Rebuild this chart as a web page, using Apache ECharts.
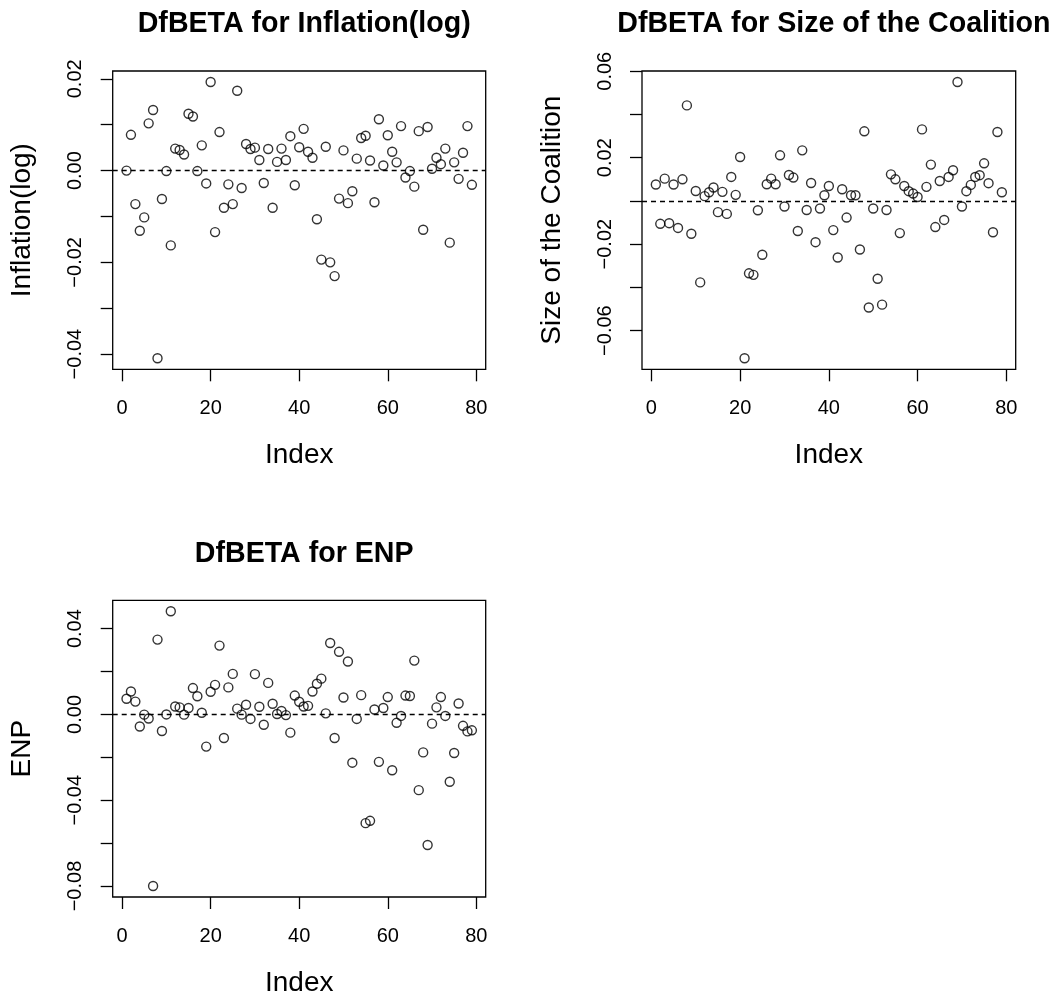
<!DOCTYPE html>
<html>
<head>
<meta charset="UTF-8">
<title>DfBETA plots</title>
<script type="text/javascript" src="https://cdn.jsdelivr.net/npm/echarts@6/dist/echarts.min.js"></script>
<style>
  html, body { margin: 0; padding: 0; background: #fff; }
</style>
</head>
<body>
<div id="mychart" style="width:1056px;height:998px;"></div>

<script type="text/javascript">

// DfBETA values, one per observation (Index 1..79)
var dfbInflation = [
   0.0000,  0.0078, -0.0073, -0.0131, -0.0102,  0.0103,  0.0132, -0.0409, -0.0062, -0.0001,
  -0.0163,  0.0048,  0.0045,  0.0035,  0.0124,  0.0118, -0.0001,  0.0055, -0.0028,  0.0193,
  -0.0134,  0.0084, -0.0081, -0.0030, -0.0073,  0.0174, -0.0038,  0.0058,  0.0047,  0.0050,
   0.0023, -0.0027,  0.0047, -0.0081,  0.0019,  0.0048,  0.0023,  0.0075, -0.0032,  0.0051,
   0.0091,  0.0041,  0.0028, -0.0106, -0.0194,  0.0052, -0.0200, -0.0230, -0.0061,  0.0044,
  -0.0071, -0.0045,  0.0026,  0.0071,  0.0076,  0.0022, -0.0069,  0.0112,  0.0011,  0.0077,
   0.0041,  0.0018,  0.0097, -0.0015, -0.0001, -0.0035,  0.0086, -0.0129,  0.0095,  0.0004,
   0.0028,  0.0014,  0.0048, -0.0157,  0.0018, -0.0018,  0.0039,  0.0097, -0.0031
];

var dfbCoalition = [
   0.0076, -0.0106,  0.0103, -0.0103,  0.0076, -0.0125,  0.0100,  0.0442, -0.0152,  0.0046,
  -0.0377,  0.0022,  0.0040,  0.0062, -0.0052,  0.0042, -0.0060,  0.0111,  0.0028,  0.0203,
  -0.0728, -0.0335, -0.0342, -0.0043, -0.0249,  0.0077,  0.0103,  0.0077,  0.0211, -0.0026,
   0.0120,  0.0108, -0.0139,  0.0234, -0.0042,  0.0083, -0.0191, -0.0035,  0.0026,  0.0069,
  -0.0135, -0.0262,  0.0054, -0.0077,  0.0026,  0.0026, -0.0225,  0.0322, -0.0493, -0.0035,
  -0.0360, -0.0480, -0.0042,  0.0123,  0.0100, -0.0149,  0.0069,  0.0045,  0.0034,  0.0018,
   0.0331,  0.0065,  0.0168, -0.0121,  0.0092, -0.0088,  0.0111,  0.0142,  0.0550, -0.0026,
   0.0045,  0.0074,  0.0111,  0.0119,  0.0174,  0.0082, -0.0145,  0.0319,  0.0040
];

var dfbEnp = [
   0.0073,  0.0107,  0.0060, -0.0056, -0.0001, -0.0019, -0.0800,  0.0349, -0.0077,  0.0000,
   0.0481,  0.0037,  0.0033, -0.0001,  0.0030,  0.0123,  0.0085,  0.0008, -0.0150,  0.0106,
   0.0138,  0.0321, -0.0110,  0.0126,  0.0189,  0.0027, -0.0001,  0.0045, -0.0021,  0.0188,
   0.0036, -0.0048,  0.0147,  0.0050,  0.0002,  0.0016, -0.0003, -0.0085,  0.0088,  0.0059,
   0.0037,  0.0040,  0.0107,  0.0143,  0.0167,  0.0005,  0.0333, -0.0110,  0.0292,  0.0079,
   0.0247, -0.0225, -0.0021,  0.0090, -0.0507, -0.0496,  0.0023, -0.0221,  0.0030,  0.0081,
  -0.0260, -0.0039, -0.0007,  0.0088,  0.0086,  0.0251, -0.0353, -0.0177, -0.0609, -0.0043,
   0.0033,  0.0081, -0.0007, -0.0314, -0.0180,  0.0051, -0.0053, -0.0079, -0.0074
];

var panelTitles = ['DfBETA for Inflation(log)', 'DfBETA for Size of the Coalition', 'DfBETA for ENP'];
var yNames = ['Inflation(log)', 'Size of the Coalition', 'ENP'];

var xTicks = [0, 20, 40, 60, 80];
var yTicks = [
  [-0.04, -0.03, -0.02, -0.01, 0, 0.01, 0.02],
  [-0.06, -0.04, -0.02, 0, 0.02, 0.04, 0.06],
  [-0.08, -0.06, -0.04, -0.02, 0, 0.02, 0.04]
];
var yLabels = [
  [-0.04, -0.02, 0, 0.02],
  [-0.06, -0.02, 0.02, 0.06],
  [-0.08, -0.04, 0, 0.04]
];

var allData = [dfbInflation, dfbCoalition, dfbEnp];

// plot boxes (pixels)
var boxes = [
  {left: 112.7, top: 71,    width: 373,   height: 298.3},
  {left: 642,   top: 71,    width: 373.7, height: 298.3},
  {left: 112.7, top: 600.3, width: 373,   height: 297.4}
];

var FONT = '"Liberation Sans", Arial, Helvetica, sans-serif';

function fmt(v) {
  var s = Math.abs(v).toFixed(2);
  return v < -1e-9 ? '\u2212' + s : s;
}

// R style axis range: data range extended by 4% each side
function rRange(arr) {
  var lo = Math.min.apply(null, arr), hi = Math.max.apply(null, arr);
  var d = (hi - lo) * 0.04;
  return [lo - d, hi + d];
}

var n = dfbInflation.length;
var xr = [1 - (n - 1) * 0.04, n + (n - 1) * 0.04];

var grids = [], xAxes = [], yAxes = [], series = [], titles = [];

for (var k = 0; k < 3; k++) {
  var b = boxes[k];
  grids.push({
    left: b.left, top: b.top, width: b.width, height: b.height,
    show: true, borderColor: '#000', borderWidth: 1.3, backgroundColor: 'transparent'
  });

  titles.push({
    text: panelTitles[k],
    left: b.left + b.width / 2,
    top: b.top - 66,
    textAlign: 'center',
    textStyle: {fontFamily: FONT, fontSize: 28.6, fontWeight: 'bold', color: '#000'}
  });

  xAxes.push({
    gridIndex: k, type: 'value', min: xr[0], max: xr[1],
    splitLine: {show: false},
    axisLine: {show: false, onZero: false},
    axisTick: {show: true, length: 12, inside: false, customValues: xTicks,
               lineStyle: {color: '#000', width: 1.3}},
    axisLabel: {customValues: xTicks, margin: 29, fontSize: 20, fontFamily: FONT, color: '#000'},
    name: 'Index', nameLocation: 'middle', nameGap: 72,
    nameTextStyle: {fontSize: 28, fontFamily: FONT, color: '#000'}
  });

  var yr = rRange(allData[k]);
  yAxes.push({
    gridIndex: k, type: 'value', min: yr[0], max: yr[1],
    splitLine: {show: false},
    axisLine: {show: false, onZero: false},
    axisTick: {show: true, length: 12, inside: false, customValues: yTicks[k],
               lineStyle: {color: '#000', width: 1.3}},
    axisLabel: {customValues: yLabels[k], rotate: 90, margin: 27, fontSize: 20,
                fontFamily: FONT, color: '#000', formatter: fmt},
    name: yNames[k], nameLocation: 'middle', nameRotate: 90, nameGap: 76,
    nameTextStyle: {fontSize: 28, fontFamily: FONT, color: '#000'}
  });

  series.push({
    type: 'scatter', xAxisIndex: k, yAxisIndex: k,
    symbol: 'circle', symbolSize: 9,
    itemStyle: {color: 'rgba(0,0,0,0)', borderColor: '#000', borderWidth: 1.4},
    data: allData[k].map(function (v, i) { return [i + 1, v]; }),
    markLine: {
      silent: true, symbol: 'none', label: {show: false},
      lineStyle: {color: '#000', type: [5, 4], width: 1.3},
      data: [{yAxis: 0}]
    }
  });
}

var mychart = echarts.init(document.getElementById('mychart'));
mychart.setOption({
  animation: false,
  backgroundColor: '#fff',
  title: titles,
  grid: grids,
  xAxis: xAxes,
  yAxis: yAxes,
  series: series
});
</script>
</body>
</html>
